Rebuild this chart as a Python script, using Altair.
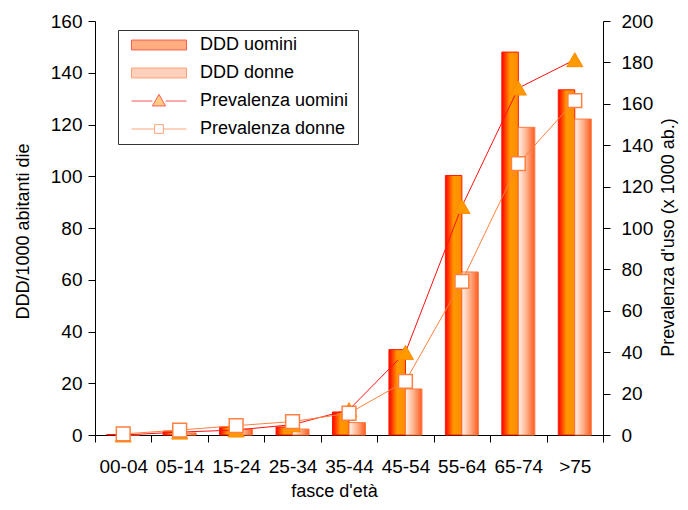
import altair as alt
import pandas as pd

# ---- data ----
cats = ["00-04", "05-14", "15-24", "25-34", "35-44", "45-54", "55-64", "65-74", ">75"]
ddd_uomini = [0.2, 1.5, 3.1, 3.1, 8.9, 33.0, 100.3, 148.0, 133.4]
ddd_donne = [0.1, 0.8, 2.3, 2.3, 4.8, 17.8, 63.0, 118.9, 122.1]
prev_uomini = [0.0, 1.4, 2.4, 5.0, 12.2, 39.9, 110.4, 167.6, 181.3]
prev_donne = [0.5, 2.4, 4.5, 6.5, 10.5, 25.9, 74.2, 131.1, 161.5]
sessi = ["uomini", "donne"]
series = ["DDD uomini", "DDD donne", "Prevalenza  uomini", "Prevalenza  donne"]
left_ticks = [0, 20, 40, 60, 80, 100, 120, 140, 160]
right_ticks = [0, 20, 40, 60, 80, 100, 120, 140, 160, 180, 200]

df = pd.DataFrame({
    "cat": cats + cats,
    "sesso": ["uomini"] * len(cats) + ["donne"] * len(cats),
    "ddd": ddd_uomini + ddd_donne,
    "prev": prev_uomini + prev_donne,
})

FONT = "Liberation Sans"

x_enc = alt.X(
    "cat:N",
    sort=cats,
    scale=alt.Scale(domain=cats, paddingInner=0, paddingOuter=0),
    axis=alt.Axis(
        title="fasce d'età", labelAngle=0, tickBand="extent", tickSize=7,
        labelFontSize=19, labelPadding=15, titleFontSize=18,
        titleX=239, titleY=56, titleBaseline="middle", titleAlign="center",
    ),
)
xoff = alt.XOffset("sesso:N", sort=sessi,
                   scale=alt.Scale(domain=sessi, paddingInner=0, paddingOuter=0.71))

y_left = alt.Y(
    "ddd:Q",
    scale=alt.Scale(domain=[0, 160], nice=False),
    axis=alt.Axis(
        orient="left", values=left_ticks, title="DDD/1000 abitanti  die",
        tickSize=7, labelPadding=6, labelFontSize=19, titleFontSize=18,
        titleX=-72, titleY=210, titleAngle=270, titleBaseline="middle", titleAlign="center",
    ),
)
y_right = alt.Y(
    "prev:Q",
    scale=alt.Scale(domain=[0, 200], nice=False),
    axis=alt.Axis(
        orient="right", values=right_ticks, title="Prevalenza d'uso (x 1000 ab.)",
        tickSize=7, labelPadding=11, labelFontSize=19, titleFontSize=18,
        titleX=65, titleY=216, titleAngle=270, titleBaseline="middle", titleAlign="center",
    ),
)

grad_u = alt.LinearGradient(
    gradient="linear", x1=0, x2=1, y1=0, y2=0,
    stops=[alt.GradientStop(color="#FF0000", offset=0),
           alt.GradientStop(color="#FF9900", offset=0.5),
           alt.GradientStop(color="#FF8C00", offset=1)],
)
grad_d = alt.LinearGradient(
    gradient="linear", x1=0, x2=1, y1=0, y2=0,
    stops=[alt.GradientStop(color="#FFF4EE", offset=0),
           alt.GradientStop(color="#FFB08A", offset=0.5),
           alt.GradientStop(color="#FF5A1E", offset=1)],
)

base = alt.Chart(df)

bar_u = base.transform_filter(alt.datum.sesso == "uomini").mark_bar(
    fill=grad_u, stroke="#FF1A00", strokeWidth=1
).encode(x=x_enc, xOffset=xoff, y=y_left)
bar_d = base.transform_filter(alt.datum.sesso == "donne").mark_bar(
    fill=grad_d, stroke="#FF7A40", strokeWidth=1
).encode(x=x_enc, xOffset=xoff, y=y_left)

line_u = base.transform_filter(alt.datum.sesso == "uomini").mark_line(
    color="#FF1010", strokeWidth=1
).encode(x=x_enc, y=y_right)
line_d = base.transform_filter(alt.datum.sesso == "donne").mark_line(
    color="#FF8040", strokeWidth=1
).encode(x=x_enc, y=y_right)
pts_u = base.transform_filter(alt.datum.sesso == "uomini").mark_point(
    shape="triangle-up", filled=True, fill="#FF9900", stroke="#FF8C00",
    strokeWidth=1, size=260, opacity=1
).encode(x=x_enc, y=y_right)
pts_d = base.transform_filter(alt.datum.sesso == "donne").mark_point(
    shape="square", filled=True, fill="white", stroke="#FF8040",
    strokeWidth=1.5, size=190, opacity=1
).encode(x=x_enc, y=y_right)

# legend-only layer (no rows drawn)
shape_paths = [
    "M-1,-0.18H1V0.18H-1Z",
    "M-1,-0.18H1V0.18H-1Z",
    "M-1,0H-0.24M0.24,0H1M0,-0.24L0.24,0.18L-0.24,0.18Z",
    "M-1,0H-0.16M0.16,0H1M-0.16,-0.16H0.16V0.16H-0.16Z",
]
leg = alt.Legend(
    orient="none", legendX=23, legendY=9, title=None,
    fillColor="white", strokeColor="#333333", padding=4,
    labelFont=FONT, labelFontSize=18, labelColor="black",
    symbolSize=3025, clipHeight=22, rowPadding=6,
    symbolOffset=9, labelOffset=13, symbolStrokeWidth=1,
)
legend_layer = base.transform_filter("false").mark_point(filled=True, size=3025).encode(
    x=x_enc, y=y_right,
    fill=alt.Fill("serie:N", sort=series, legend=leg,
                  scale=alt.Scale(domain=series, range=["#FF5A00", "#FFA27A", "#FF9900", "white"])),
    stroke=alt.Stroke("serie:N", sort=series, legend=leg,
                      scale=alt.Scale(domain=series, range=["#FF1A00", "#FF7A40", "#FF1010", "#FF8040"])),
    shape=alt.Shape("serie:N", sort=series, legend=leg,
                    scale=alt.Scale(domain=series, range=shape_paths)),
)

left = alt.layer(bar_u, bar_d)
right = alt.layer(line_u, line_d, pts_u, pts_d, legend_layer)

chart = alt.layer(left, right).resolve_scale(y="independent").properties(
    width=508, height=414,
    autosize=alt.AutoSizeParams(type="none"),
    padding={"left": 87, "top": 13, "right": 77, "bottom": 67},
).configure_axis(
    labelFont=FONT, titleFont=FONT, labelColor="black", titleColor="black",
    domainColor="black", tickColor="black", grid=False, titleFontWeight="normal",
).configure_view(strokeWidth=0)

chart.save("out.html", embed_options={"renderer": "svg", "actions": False})
